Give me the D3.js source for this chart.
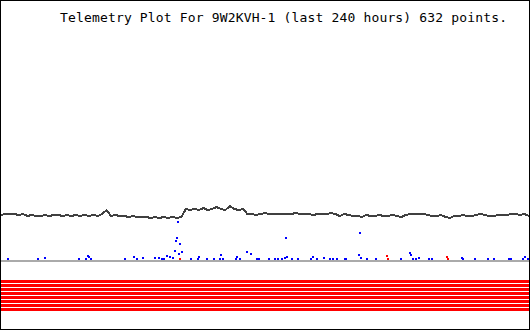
<!DOCTYPE html>
<html>
<head>
<meta charset="utf-8">
<script src="https://cdn.jsdelivr.net/npm/d3@7"></script>
<style>
  body { margin: 0; background: #fff; }
  #chart { width: 530px; height: 330px; }
  text { font-family: "DejaVu Sans Mono", monospace; }
</style>
</head>
<body>
<div id="chart"></div>
<script>
const width  = 530;
const height = 330;

const titleText = "Telemetry Plot For 9W2KVH-1 (last 240 hours) 632 points.";

// Analog channel 1, one reading every 2 hours (0..240 h)
const lineValues = [
  45, 46, 46, 46, 45, 46, 44, 45, 44, 44, 45, 44, 45, 45, 44, 45, 44, 45, 44, 45,
  44, 45, 44, 46, 50, 44, 45, 44, 44, 43, 44, 43, 43, 43, 42, 43, 42, 43, 42, 43,
  42, 43, 51, 50, 51, 50, 52, 50, 51, 53, 51, 50, 54, 51, 50, 51, 46, 46, 45, 46,
  47, 46, 46, 46, 46, 46, 46, 47, 46, 46, 46, 45, 46, 46, 46, 47, 46, 44, 46, 45,
  44, 44, 43, 45, 44, 44, 45, 44, 44, 45, 44, 43, 45, 46, 46, 46, 46, 45, 44, 44,
  45, 43, 42, 44, 44, 45, 44, 44, 45, 46, 45, 44, 44, 45, 45, 45, 46, 46, 45, 46,
  44
];

// Analog channel 2 (blue) readings: hours and values
const blueHours = [
  2.7, 16.4, 19.5, 35.0, 38.2, 39.1, 39.5, 40.5, 55.9, 60.0, 61.4, 64.1, 69.5, 71.4,
  72.7, 73.6, 75.0, 76.4, 77.7, 78.6, 79.1, 79.5, 80.0, 80.5, 80.9, 81.8, 85.9, 89.1,
  89.5, 93.2, 96.4, 99.1, 99.5, 100.5, 106.4, 106.8, 108.2, 111.4, 113.2, 115.9, 116.8,
  121.4, 124.1, 125.5, 127.3, 128.6, 129.1, 129.5, 131.8, 134.5, 140.5, 141.4, 143.2,
  146.4, 149.1, 150.5, 152.3, 155.9, 156.4, 162.3, 162.7, 163.2, 165.9, 170.0, 181.4,
  185.5, 185.9, 186.8, 188.2, 189.5, 194.1, 195.5, 209.1, 209.5, 215.0, 220.9, 223.6,
  230.5, 231.4, 236.8, 237.7, 239.1
];
const blueValues = [
  1, 1, 2, 1, 1, 4, 3, 1, 1, 3, 1, 2, 2, 2,
  1, 1, 4, 3, 2, 9, 19, 22, 38, 6, 16, 8, 1, 1,
  3, 1, 1, 1, 5, 1, 1, 3, 1, 8, 6, 1, 1,
  1, 1, 1, 1, 2, 22, 3, 1, 1, 1, 3, 1,
  2, 1, 1, 1, 1, 1, 5, 27, 2, 1, 1, 1,
  7, 5, 1, 1, 2, 1, 1, 2, 1, 1, 1, 1,
  1, 1, 1, 3, 1
];

// Analog channel 3 (red) readings
const redHours  = [80.9, 175.0, 175.5, 202.3, 202.7];
const redValues = [1, 4, 1, 3, 1];

// Digital bits, all set over the whole period
const bitNames  = ["B1", "B2", "B3", "B4", "B5", "B6", "B7", "B8"];
const bitValues = [1, 1, 1, 1, 1, 1, 1, 1];

const svg = d3.select("#chart").append("svg")
    .attr("width", width)
    .attr("height", height)
    .attr("shape-rendering", "crispEdges");

const x = d3.scaleLinear().domain([0, 240]).range([1, 529]);
const y = d3.scaleLinear().domain([0, 240]).range([260, 20]);
const bitBand = d3.scaleBand().domain(bitNames)
    .range([279.5, 311.5]).paddingInner(0.25).paddingOuter(0.125);

// baseline
svg.append("rect")
    .attr("x", x(0))
    .attr("y", y(0))
    .attr("width", x(240) - x(0))
    .attr("height", 2)
    .attr("fill", "#aaaaaa");

// main telemetry trace
const line = d3.line()
    .x((d, i) => x(i * 2))
    .y(d => y(d));

svg.append("path")
    .datum(lineValues)
    .attr("d", line)
    .attr("fill", "none")
    .attr("stroke", "#404040")
    .attr("stroke-width", 2);

// point series
const drawPoints = (hours, values, colour) => {
  svg.append("g").selectAll("rect")
    .data(hours).enter()
      .append("rect")
        .attr("x", d => Math.round(x(d)))
        .attr("y", (d, i) => Math.round(y(values[i])) - 1)
        .attr("width", 2)
        .attr("height", 2)
        .attr("fill", colour);
};
drawPoints(blueHours, blueValues, "#0000ff");
drawPoints(redHours, redValues, "#ff0000");

// digital bit stripes
svg.append("g").selectAll("rect")
  .data(bitNames).enter()
    .append("rect")
      .attr("x", x(0))
      .attr("y", d => bitBand(d))
      .attr("width", x(240) - x(0))
      .attr("height", bitBand.bandwidth())
      .attr("fill", (d, i) => bitValues[i] ? "#ff0000" : "#ffffff");

// title
svg.append("text")
    .attr("x", 60)
    .attr("y", 22)
    .attr("font-size", 13)
    .attr("textLength", 447)
    .attr("lengthAdjust", "spacing")
    .attr("fill", "#000")
    .text(titleText);

// frame
svg.append("rect")
    .attr("x", 0.5)
    .attr("y", 0.5)
    .attr("width", width - 1)
    .attr("height", height - 1)
    .attr("fill", "none")
    .attr("stroke", "#000");
</script>
</body>
</html>
